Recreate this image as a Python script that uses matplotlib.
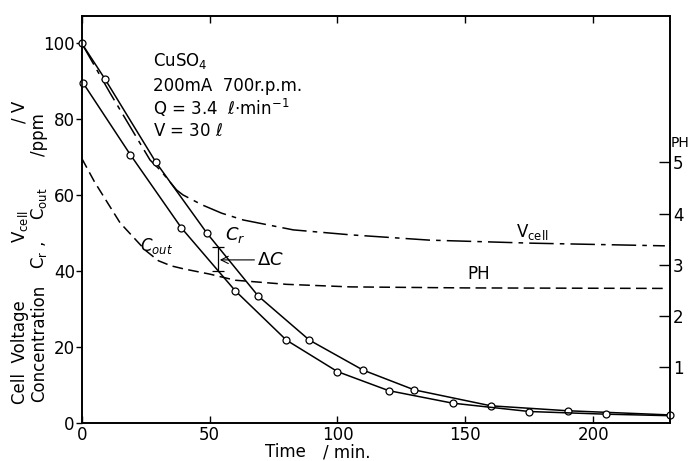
import numpy as np
import matplotlib as mpl
mpl.use('Agg')
import matplotlib.pyplot as plt

# CuSO4 run, 200 mA, 700 r.p.m.
# concentration curves (ppm) vs time (min)
cr_time = [0, 9, 29, 49, 69, 89, 110, 130, 160, 190, 230]
cr_conc = [100, 90.7, 68.7, 50.0, 33.5, 21.9, 14.0, 8.8, 4.6, 3.3, 2.2]
cout_time = [0.6, 19, 39, 60, 80, 100, 120, 145, 175, 205]
cout_conc = [89.5, 70.7, 51.4, 34.9, 21.9, 13.6, 8.6, 5.3, 3.1, 2.4]
# last stretch of the lower curve, drawn without a sample point
cout_tail_time = [205, 230]
cout_tail_conc = [2.4, 2.0]

# cell voltage
vcell_time = [0, 11.1, 26.7, 30.6, 37.1, 39.6, 47, 54.7, 63.2, 82.7, 105, 136, 176, 228]
vcell = [100, 86.9, 69.3, 66.7, 61.4, 60.1, 57.5, 55.3, 53.5, 50.9, 49.6, 48.2, 47.4, 46.7]

# pH of the solution
ph_time = [0, 5, 10, 15, 20, 25, 30, 35, 40, 50, 60, 80, 105, 150, 228]
ph = [5.08, 4.62, 4.22, 3.82, 3.55, 3.28, 3.08, 2.98, 2.92, 2.82, 2.70, 2.62, 2.57, 2.55, 2.54]

xticks = [0, 50, 100, 150, 200]
yticks = [0, 20, 40, 60, 80, 100]
phticks = [1, 2, 3, 4, 5]
dc_time = 53.4

plt.rcParams['font.family'] = 'DejaVu Sans'
plt.rcParams['font.size'] = 12

W, H = 690, 461
fig = plt.figure(figsize=(W / 100, H / 100), dpi=100)
x0, x1, y0, y1 = 81.7, 670, 423.3, 16
ax = fig.add_axes([x0 / W, 1 - y0 / H, (x1 - x0) / W, (y0 - y1) / H])
ax2 = ax.twinx()

lw = 1.1
ax.plot(cout_tail_time, cout_tail_conc, '-', color='black', lw=lw, zorder=2)
ax.plot(cr_time, cr_conc, '-', color='black', lw=lw, marker='o', ms=5,
        mfc='white', mec='black', mew=0.9, clip_on=False, zorder=3)
ax.plot(cout_time, cout_conc, '-', color='black', lw=lw, marker='o', ms=5,
        mfc='white', mec='black', mew=0.9, clip_on=False, zorder=3)
ax.plot(vcell_time, vcell, color='black', lw=lw, linestyle=(0, (16, 4, 3, 4)))
ax2.plot(ph_time, ph, color='black', lw=lw, linestyle=(0, (7, 3.5)))

ax.set_xlim(0, 230)
ax.set_ylim(0, (y0 - y1) / 3.8)
ax2.set_ylim((418.6 - y0) / 51.25, (418.6 - y1) / 51.25)

ax.set_xticks(xticks)
ax.set_yticks(yticks)
ax2.set_yticks(phticks)
ax.tick_params(axis='x', direction='in', length=5, width=1, top=True, pad=2)
ax.tick_params(axis='y', direction='out', length=4, width=1, pad=1)
ax2.tick_params(axis='y', direction='in', length=8, width=1, pad=2)
for a in (ax, ax2):
    for s in a.spines.values():
        s.set_linewidth(1.2)

# delta C bracket between the two concentration curves
dc_top = np.interp(dc_time, cr_time, cr_conc)
dc_bot = np.interp(dc_time, cout_time, cout_conc)
ax.plot([dc_time, dc_time], [dc_bot, dc_top], color='black', lw=0.9)
ax.plot([dc_time, dc_time], [dc_bot, dc_top], linestyle='none', marker='_',
        ms=9, mew=0.9, color='black')
ax.annotate(r'$\Delta C$', xy=(dc_time + 0.6, 43), xytext=(68.6, 43),
            va='center', ha='left', fontsize=13,
            arrowprops=dict(arrowstyle='->', lw=0.8, color='black',
                            shrinkA=0, shrinkB=0))

# curve labels
ax.text(60, 49.5, r'$C_r$', ha='center', va='center', fontsize=13)
ax.text(29.4, 46.6, r'$C_{out}$', ha='center', va='center', fontsize=12)
ax.text(176, 50.3, r'V$_{\mathrm{cell}}$', ha='center', va='center')
ax.text(155.3, 39.3, 'PH', ha='center', va='center')

# run conditions
cond = ['CuSO$_4$', '200mA  700r.p.m.', r'Q = 3.4  $\ell$$\cdot$min$^{-1}$', r'V = 30 $\ell$']
cond_y = [95.3, 88.8, 83.0, 76.9]
for s, yv in zip(cond, cond_y):
    ax.text(27.9, yv, s, ha='left', va='center')

# axis titles
fig.text(285 / W, 1 - 452 / H, 'Time', ha='center', va='center')
fig.text(323 / W, 1 - 452 / H, '/ min.', ha='left', va='center')
fig.text(671 / W, 1 - 143 / H, 'PH', ha='left', va='center', fontsize=10)

left_outer = [('Cell  Voltage', 352.5), (r'V$_{\mathrm{cell}}$', 227), ('/ V', 111.5)]
left_inner = [('Concentration', 343.5), (r'C$_\mathrm{r}$ ,', 255),
              (r'C$_{\mathrm{out}}$', 203.5), ('/ppm', 135)]
for s, yp in left_outer:
    fig.text(20 / W, 1 - yp / H, s, rotation=90, ha='center', va='center')
for s, yp in left_inner:
    fig.text(39 / W, 1 - yp / H, s, rotation=90, ha='center', va='center')

fig.savefig('out.png', dpi=100)
